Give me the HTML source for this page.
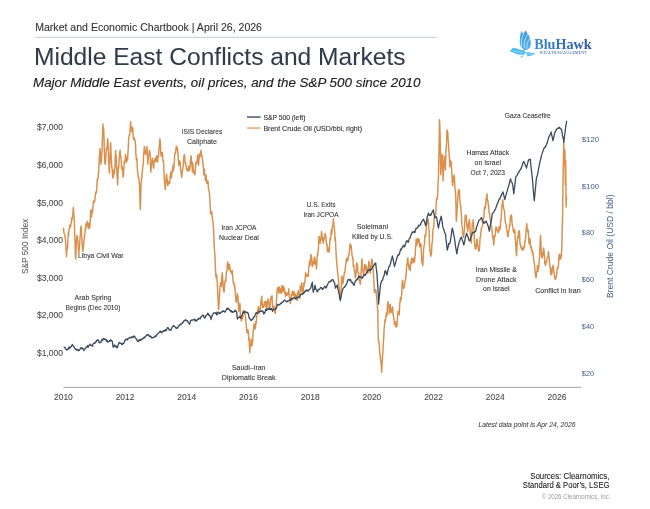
<!DOCTYPE html>
<html><head><meta charset="utf-8"><style>
html,body{margin:0;padding:0;background:#fff;width:650px;height:509px;overflow:hidden}
svg{display:block;will-change:transform}
text{font-family:"Liberation Sans",sans-serif}
</style></head><body>
<svg width="650" height="509" viewBox="0 0 650 509">
<rect width="650" height="509" fill="#fff"/>
<text x="35.2" y="30.9" font-size="10.6" text-anchor="start" fill="#333" stroke="#333" stroke-width="0.1" textLength="226.8" lengthAdjust="spacingAndGlyphs" >Market and Economic Chartbook | April 26, 2026</text>
<rect x="35" y="36.8" width="402" height="1" fill="#c3c9d1"/>
<text x="34.0" y="65.1" font-size="24.2" text-anchor="start" fill="#303c49" stroke="#303c49" stroke-width="0.05" textLength="371.5" lengthAdjust="spacingAndGlyphs" >Middle East Conflicts and Markets</text>
<text x="33.0" y="86.7" font-size="12.8" text-anchor="start" fill="#222" stroke="#222" stroke-width="0.15" textLength="387.5" lengthAdjust="spacingAndGlyphs"  font-style="italic">Major Middle East events, oil prices, and the S&amp;P 500 since 2010</text>
<rect x="63.4" y="386.8" width="518" height="1.2" fill="#aeb2b6"/>
<text x="63.4" y="399.5" font-size="8.5" text-anchor="middle" fill="#4d4d4d" stroke="#4d4d4d" stroke-width="0.1" textLength="18.9" lengthAdjust="spacingAndGlyphs" >2010</text>
<text x="125.1" y="399.5" font-size="8.5" text-anchor="middle" fill="#4d4d4d" stroke="#4d4d4d" stroke-width="0.1" textLength="18.9" lengthAdjust="spacingAndGlyphs" >2012</text>
<text x="186.8" y="399.5" font-size="8.5" text-anchor="middle" fill="#4d4d4d" stroke="#4d4d4d" stroke-width="0.1" textLength="18.9" lengthAdjust="spacingAndGlyphs" >2014</text>
<text x="248.5" y="399.5" font-size="8.5" text-anchor="middle" fill="#4d4d4d" stroke="#4d4d4d" stroke-width="0.1" textLength="18.9" lengthAdjust="spacingAndGlyphs" >2016</text>
<text x="310.2" y="399.5" font-size="8.5" text-anchor="middle" fill="#4d4d4d" stroke="#4d4d4d" stroke-width="0.1" textLength="18.9" lengthAdjust="spacingAndGlyphs" >2018</text>
<text x="371.9" y="399.5" font-size="8.5" text-anchor="middle" fill="#4d4d4d" stroke="#4d4d4d" stroke-width="0.1" textLength="18.9" lengthAdjust="spacingAndGlyphs" >2020</text>
<text x="433.6" y="399.5" font-size="8.5" text-anchor="middle" fill="#4d4d4d" stroke="#4d4d4d" stroke-width="0.1" textLength="18.9" lengthAdjust="spacingAndGlyphs" >2022</text>
<text x="495.3" y="399.5" font-size="8.5" text-anchor="middle" fill="#4d4d4d" stroke="#4d4d4d" stroke-width="0.1" textLength="18.9" lengthAdjust="spacingAndGlyphs" >2024</text>
<text x="557.0" y="399.5" font-size="8.5" text-anchor="middle" fill="#4d4d4d" stroke="#4d4d4d" stroke-width="0.1" textLength="18.9" lengthAdjust="spacingAndGlyphs" >2026</text>
<text x="63.0" y="356.0" font-size="8.6" text-anchor="end" fill="#4d4d4d" stroke="#4d4d4d" stroke-width="0.1" textLength="26.0" lengthAdjust="spacingAndGlyphs" >$1,000</text>
<text x="63.0" y="318.4" font-size="8.6" text-anchor="end" fill="#4d4d4d" stroke="#4d4d4d" stroke-width="0.1" textLength="26.0" lengthAdjust="spacingAndGlyphs" >$2,000</text>
<text x="63.0" y="280.8" font-size="8.6" text-anchor="end" fill="#4d4d4d" stroke="#4d4d4d" stroke-width="0.1" textLength="26.0" lengthAdjust="spacingAndGlyphs" >$3,000</text>
<text x="63.0" y="243.2" font-size="8.6" text-anchor="end" fill="#4d4d4d" stroke="#4d4d4d" stroke-width="0.1" textLength="26.0" lengthAdjust="spacingAndGlyphs" >$4,000</text>
<text x="63.0" y="205.6" font-size="8.6" text-anchor="end" fill="#4d4d4d" stroke="#4d4d4d" stroke-width="0.1" textLength="26.0" lengthAdjust="spacingAndGlyphs" >$5,000</text>
<text x="63.0" y="168.0" font-size="8.6" text-anchor="end" fill="#4d4d4d" stroke="#4d4d4d" stroke-width="0.1" textLength="26.0" lengthAdjust="spacingAndGlyphs" >$6,000</text>
<text x="63.0" y="130.4" font-size="8.6" text-anchor="end" fill="#4d4d4d" stroke="#4d4d4d" stroke-width="0.1" textLength="26.0" lengthAdjust="spacingAndGlyphs" >$7,000</text>
<text x="581.8" y="375.7" font-size="7.8" text-anchor="start" fill="#46608a" textLength="12.3" lengthAdjust="spacingAndGlyphs" >$20</text>
<text x="581.8" y="328.9" font-size="7.8" text-anchor="start" fill="#46608a" textLength="12.3" lengthAdjust="spacingAndGlyphs" >$40</text>
<text x="581.8" y="282.1" font-size="7.8" text-anchor="start" fill="#46608a" textLength="12.3" lengthAdjust="spacingAndGlyphs" >$60</text>
<text x="581.8" y="235.3" font-size="7.8" text-anchor="start" fill="#46608a" textLength="12.3" lengthAdjust="spacingAndGlyphs" >$80</text>
<text x="581.8" y="188.5" font-size="7.8" text-anchor="start" fill="#46608a" textLength="17.2" lengthAdjust="spacingAndGlyphs" >$100</text>
<text x="581.8" y="141.7" font-size="7.8" text-anchor="start" fill="#46608a" textLength="17.2" lengthAdjust="spacingAndGlyphs" >$120</text>
<text transform="translate(27.8,246.4) rotate(-90)" font-size="8.5" text-anchor="middle" fill="#4d4d4d" textLength="55.2" lengthAdjust="spacingAndGlyphs">S&amp;P 500 Index</text>
<text transform="translate(613.4,246.2) rotate(-90)" font-size="8.8" text-anchor="middle" fill="#46608a" textLength="103.5" lengthAdjust="spacingAndGlyphs">Brent Crude Oil (USD / bbl)</text>
<rect x="247" y="116.3" width="13.6" height="1.5" fill="#4a5b6e"/>
<rect x="247" y="127.3" width="13.6" height="1.5" fill="#e6ab74"/>
<text x="263.4" y="120" font-size="7.4" text-anchor="start" fill="#333" stroke="#333" stroke-width="0.12" textLength="42.0" lengthAdjust="spacingAndGlyphs" >S&amp;P 500 (left)</text>
<text x="263.4" y="131" font-size="7.4" text-anchor="start" fill="#333" stroke="#333" stroke-width="0.12" textLength="98.6" lengthAdjust="spacingAndGlyphs" >Brent Crude Oil (USD/bbl, right)</text>
<text x="78.0" y="258.1" font-size="7.6" text-anchor="start" fill="#3c3c3c" stroke="#3c3c3c" stroke-width="0.12" textLength="45.6" lengthAdjust="spacingAndGlyphs" >Libya Civil War</text>
<text x="93" y="300.2" font-size="7.6" text-anchor="middle" fill="#3c3c3c" stroke="#3c3c3c" stroke-width="0.12" textLength="36.9" lengthAdjust="spacingAndGlyphs" >Arab Spring</text>
<text x="93" y="309.85" font-size="7.6" text-anchor="middle" fill="#3c3c3c" stroke="#3c3c3c" stroke-width="0.12" textLength="54.8" lengthAdjust="spacingAndGlyphs" >Begins (Dec 2010)</text>
<text x="202" y="134.2" font-size="7.6" text-anchor="middle" fill="#3c3c3c" stroke="#3c3c3c" stroke-width="0.12" textLength="40.5" lengthAdjust="spacingAndGlyphs" >ISIS Declares</text>
<text x="202" y="143.85" font-size="7.6" text-anchor="middle" fill="#3c3c3c" stroke="#3c3c3c" stroke-width="0.12" textLength="30.1" lengthAdjust="spacingAndGlyphs" >Caliphate</text>
<text x="239" y="230.1" font-size="7.6" text-anchor="middle" fill="#3c3c3c" stroke="#3c3c3c" stroke-width="0.12" textLength="35.0" lengthAdjust="spacingAndGlyphs" >Iran JCPOA</text>
<text x="239" y="239.75" font-size="7.6" text-anchor="middle" fill="#3c3c3c" stroke="#3c3c3c" stroke-width="0.12" textLength="39.8" lengthAdjust="spacingAndGlyphs" >Nuclear Deal</text>
<text x="248.7" y="370.0" font-size="7.6" text-anchor="middle" fill="#3c3c3c" stroke="#3c3c3c" stroke-width="0.12" textLength="33.4" lengthAdjust="spacingAndGlyphs" >Saudi–Iran</text>
<text x="248.7" y="379.65" font-size="7.6" text-anchor="middle" fill="#3c3c3c" stroke="#3c3c3c" stroke-width="0.12" textLength="53.8" lengthAdjust="spacingAndGlyphs" >Diplomatic Break</text>
<text x="321" y="206.9" font-size="7.6" text-anchor="middle" fill="#3c3c3c" stroke="#3c3c3c" stroke-width="0.12" textLength="28.9" lengthAdjust="spacingAndGlyphs" >U.S. Exits</text>
<text x="321" y="216.55" font-size="7.6" text-anchor="middle" fill="#3c3c3c" stroke="#3c3c3c" stroke-width="0.12" textLength="35.1" lengthAdjust="spacingAndGlyphs" >Iran JCPOA</text>
<text x="372.4" y="228.9" font-size="7.6" text-anchor="middle" fill="#3c3c3c" stroke="#3c3c3c" stroke-width="0.12" textLength="31.4" lengthAdjust="spacingAndGlyphs" >Soleimani</text>
<text x="372.4" y="238.55" font-size="7.6" text-anchor="middle" fill="#3c3c3c" stroke="#3c3c3c" stroke-width="0.12" textLength="41.0" lengthAdjust="spacingAndGlyphs" >Killed by U.S.</text>
<text x="527.8" y="118.3" font-size="7.6" text-anchor="middle" fill="#3c3c3c" stroke="#3c3c3c" stroke-width="0.12" textLength="46.0" lengthAdjust="spacingAndGlyphs" >Gaza Ceasefire</text>
<text x="487.8" y="155.2" font-size="7.6" text-anchor="middle" fill="#3c3c3c" stroke="#3c3c3c" stroke-width="0.12" textLength="42.8" lengthAdjust="spacingAndGlyphs" >Hamas Attack</text>
<text x="487.8" y="164.85" font-size="7.6" text-anchor="middle" fill="#3c3c3c" stroke="#3c3c3c" stroke-width="0.12" textLength="26.4" lengthAdjust="spacingAndGlyphs" >on Israel</text>
<text x="487.8" y="174.5" font-size="7.6" text-anchor="middle" fill="#3c3c3c" stroke="#3c3c3c" stroke-width="0.12" textLength="34.5" lengthAdjust="spacingAndGlyphs" >Oct 7, 2023</text>
<text x="496.3" y="272.0" font-size="7.6" text-anchor="middle" fill="#3c3c3c" stroke="#3c3c3c" stroke-width="0.12" textLength="41.0" lengthAdjust="spacingAndGlyphs" >Iran Missile &amp;</text>
<text x="496.3" y="281.65" font-size="7.6" text-anchor="middle" fill="#3c3c3c" stroke="#3c3c3c" stroke-width="0.12" textLength="40.4" lengthAdjust="spacingAndGlyphs" >Drone Attack</text>
<text x="496.3" y="291.3" font-size="7.6" text-anchor="middle" fill="#3c3c3c" stroke="#3c3c3c" stroke-width="0.12" textLength="26.4" lengthAdjust="spacingAndGlyphs" >on Israel</text>
<text x="557.9" y="293.4" font-size="7.6" text-anchor="middle" fill="#3c3c3c" stroke="#3c3c3c" stroke-width="0.12" textLength="45.4" lengthAdjust="spacingAndGlyphs" >Conflict in Iran</text>
<text x="478.4" y="427.2" font-size="7.6" text-anchor="start" fill="#444" stroke="#444" stroke-width="0.08" textLength="97.2" lengthAdjust="spacingAndGlyphs"  font-style="italic">Latest data point is Apr 24, 2026</text>
<text x="609.4" y="479.4" font-size="9.0" text-anchor="end" fill="#222" stroke="#222" stroke-width="0.1" textLength="79.2" lengthAdjust="spacingAndGlyphs" >Sources: Clearnomics,</text>
<text x="609.4" y="488.3" font-size="9.0" text-anchor="end" fill="#222" stroke="#222" stroke-width="0.1" textLength="86.6" lengthAdjust="spacingAndGlyphs" >Standard &amp; Poor’s, LSEG</text>
<text x="610.5" y="498.6" font-size="6.9" text-anchor="end" fill="#9a9a9a" textLength="68.8" lengthAdjust="spacingAndGlyphs" >© 2026 Clearnomics, Inc.</text>

<defs>
<linearGradient id="bh" x1="0" y1="0" x2="1" y2="0"><stop offset="0" stop-color="#3d8ad6"/><stop offset="1" stop-color="#2b56a3"/></linearGradient>
<linearGradient id="wing" x1="0" y1="0" x2="0" y2="1"><stop offset="0" stop-color="#3a98dc"/><stop offset="1" stop-color="#5ab6ea"/></linearGradient>
</defs>
<text x="534.2" y="49.3" style="font-family:'Liberation Serif',serif;font-weight:bold" font-size="14" fill="url(#bh)" textLength="57.5" lengthAdjust="spacingAndGlyphs">BluHawk</text>
<text x="539.6" y="54.3" style="font-family:'Liberation Serif',serif" font-size="4.05" fill="#2f62b0" textLength="47" lengthAdjust="spacingAndGlyphs">WEALTH MANAGEMENT</text>
<g fill="url(#wing)">
<path d="M519.8,43.5 C519.6,39 520.2,34 521.5,31.1 C522.3,32.5 522.8,33.5 523.2,34.4 C523.8,32.6 524.6,31.2 525.6,30.4 C526.6,31.8 527.3,33 527.8,34 C528.5,34.6 528.9,35.2 529.1,35.9 C529.9,37.5 530.4,39.2 530.5,40.8 C530.9,42.3 531,43.6 530.8,44.9 C530.3,46.8 529.5,48.2 528.4,49 C527.2,49.9 526,50.3 524.9,50.4 C523.5,49.8 522.4,48.8 521.5,47.6 C520.6,46.4 520,45 519.8,43.5 Z"/>
</g>
<g fill="none" stroke="#fff" stroke-width="0.55" stroke-linecap="round">
<path d="M521.6,46.2 C520.9,42 521.5,37.5 523.2,34.6"/>
<path d="M524.3,47.4 C523.6,42.5 525.3,37.3 527.7,34"/>
<path d="M526.8,48.4 C526.5,44.5 527.8,40.5 530,38.2"/>
</g>
<g fill="#52bcee">
<path d="M510.0,51.6 C510.6,50.2 511.8,48.6 513.6,47.7 C515.4,47.9 517,48.6 518.6,49.2 C520.6,49.8 522.6,50.2 524.9,50.6 L525.6,53.2 C524.6,54.2 523.4,54.6 522,54.7 C519.5,54.7 517,54.2 515,53.4 C513.4,52.6 511.8,52 510.0,51.6 Z"/>
<path d="M525.6,52.2 C528.8,52 532.4,52.6 535.3,53.5 C534.4,54.2 533.5,54.8 532.5,55.2 C530.8,55.6 529.2,56 527.7,56.6 C527.2,55.1 526.5,53.6 525.6,52.2 Z"/>
<path d="M519.2,57.7 C520.5,57 521.8,56.2 522.6,55.2 L523.6,55.6 C523,56.8 521.6,57.7 519.2,57.7 Z"/>
</g>
<g fill="none" stroke="#fff" stroke-width="0.4">
<path d="M527,53.6 C529.5,53.6 531.8,53.9 533.8,54.3"/>
<path d="M513.5,50.8 C516,51.6 519,52.2 522.5,52.4"/>
</g>

<path d="M63.50,227.70 L63.88,232.78 L64.25,233.37 L64.62,233.85 L65.00,236.64 L65.38,239.36 L65.75,242.39 L66.12,250.57 L66.50,256.60 L66.72,250.72 L66.95,249.34 L67.18,249.94 L67.40,248.08 L67.62,247.30 L67.85,241.16 L68.07,238.24 L68.30,231.90 L68.59,235.89 L68.88,229.73 L69.16,228.85 L69.45,229.10 L69.74,225.26 L70.02,225.91 L70.31,226.69 L70.60,227.10 L70.90,224.26 L71.20,222.81 L71.50,220.13 L71.80,217.70 L72.03,219.89 L72.25,218.26 L72.47,217.20 L72.70,215.40 L72.92,213.37 L73.15,208.89 L73.38,207.57 L73.60,211.20 L73.90,214.70 L74.20,218.90 L74.47,226.04 L74.75,233.18 L75.03,242.84 L75.30,255.50 L75.53,257.16 L75.75,258.99 L75.97,254.06 L76.20,246.20 L76.42,241.36 L76.65,237.53 L76.88,237.62 L77.10,235.40 L77.32,238.02 L77.55,240.28 L77.78,240.05 L78.00,243.33 L78.22,244.75 L78.45,249.00 L78.68,253.72 L78.90,251.90 L79.19,249.13 L79.48,246.34 L79.76,243.53 L80.05,236.96 L80.34,235.35 L80.62,229.80 L80.91,227.66 L81.20,226.00 L81.43,231.07 L81.65,235.64 L81.88,237.56 L82.10,242.21 L82.32,245.82 L82.55,247.80 L82.78,251.56 L83.00,249.60 L83.22,248.92 L83.45,246.46 L83.68,244.02 L83.90,240.58 L84.12,239.56 L84.35,237.91 L84.57,235.01 L84.80,234.20 L85.09,232.19 L85.38,227.84 L85.66,228.75 L85.95,223.70 L86.24,226.51 L86.52,225.17 L86.81,224.72 L87.10,221.20 L87.47,224.32 L87.85,223.96 L88.22,228.74 L88.60,225.55 L88.97,222.98 L89.35,223.53 L89.72,227.98 L90.10,223.60 L90.40,217.59 L90.70,210.60 L90.99,209.80 L91.28,213.48 L91.56,217.27 L91.85,211.48 L92.14,212.61 L92.42,213.04 L92.71,210.35 L93.00,204.70 L93.25,202.21 L93.50,202.98 L93.75,201.58 L94.00,200.60 L94.38,202.31 L94.75,200.82 L95.12,197.51 L95.50,193.93 L95.88,191.87 L96.25,193.23 L96.62,190.35 L97.00,183.90 L97.24,179.11 L97.47,180.73 L97.71,178.26 L97.95,179.04 L98.19,177.07 L98.43,173.22 L98.66,172.48 L98.90,166.20 L99.15,160.70 L99.40,155.19 L99.65,153.49 L99.90,149.40 L100.15,148.54 L100.40,156.39 L100.65,161.78 L100.90,164.20 L101.15,160.91 L101.40,160.99 L101.65,156.01 L101.90,152.55 L102.15,150.25 L102.40,138.80 L102.65,132.49 L102.90,123.90 L103.12,128.46 L103.35,127.58 L103.57,129.00 L103.80,130.70 L104.05,139.74 L104.30,151.29 L104.55,155.87 L104.80,162.20 L105.05,164.32 L105.30,164.03 L105.55,161.79 L105.80,158.45 L106.05,152.51 L106.30,149.19 L106.55,148.17 L106.80,149.40 L107.05,147.08 L107.30,142.61 L107.55,139.99 L107.80,138.60 L108.20,148.71 L108.40,153.03 L108.60,158.44 L108.80,162.95 L109.00,166.05 L109.20,170.98 L109.40,173.10 L109.73,164.28 L110.05,156.43 L110.38,146.66 L110.70,142.60 L110.95,150.06 L111.20,158.17 L111.45,161.31 L111.70,166.20 L111.95,167.85 L112.20,168.89 L112.45,173.82 L112.70,178.00 L113.08,175.65 L113.45,176.80 L113.83,169.91 L114.20,174.03 L114.58,170.79 L114.95,166.70 L115.33,154.93 L115.70,150.40 L115.94,159.07 L116.18,155.27 L116.41,163.79 L116.65,168.30 L116.89,172.86 L117.12,178.05 L117.36,177.64 L117.60,184.90 L117.85,179.80 L118.10,172.50 L118.35,166.41 L118.60,168.19 L118.85,165.30 L119.10,157.93 L119.35,158.19 L119.60,152.40 L119.85,152.90 L120.10,150.17 L120.35,154.60 L120.60,155.91 L120.85,156.40 L121.10,159.44 L121.35,162.49 L121.60,168.10 L121.84,169.40 L122.07,166.22 L122.31,168.24 L122.55,167.79 L122.79,172.29 L123.03,177.11 L123.26,176.31 L123.50,176.00 L123.75,169.82 L124.00,168.47 L124.25,161.76 L124.50,161.59 L124.75,163.34 L125.00,159.81 L125.25,158.64 L125.50,154.40 L125.75,155.37 L126.00,158.98 L126.25,160.77 L126.50,162.25 L126.75,159.23 L127.00,160.30 L127.25,157.19 L127.50,160.30 L127.86,154.55 L128.22,148.13 L128.59,141.00 L128.95,135.98 L129.31,135.82 L129.68,134.87 L130.04,131.12 L130.40,124.80 L130.65,121.61 L130.90,125.66 L131.15,129.60 L131.40,130.78 L131.65,131.55 L131.90,127.50 L132.15,128.27 L132.40,127.80 L132.76,127.35 L133.12,136.12 L133.49,139.48 L133.85,139.66 L134.21,137.67 L134.58,139.02 L134.94,139.85 L135.30,142.60 L135.58,145.10 L135.85,154.01 L136.12,155.82 L136.40,159.91 L136.68,159.09 L136.95,158.67 L137.22,165.69 L137.50,170.39 L137.78,172.86 L138.05,174.44 L138.32,177.74 L138.60,177.15 L138.88,177.59 L139.15,181.23 L139.42,184.05 L139.70,189.80 L140.00,203.18 L140.30,209.50 L140.65,199.07 L141.00,183.90 L141.25,182.08 L141.50,179.83 L141.75,177.59 L142.00,174.60 L142.25,171.61 L142.50,169.86 L142.75,165.72 L143.00,166.20 L143.32,163.78 L143.65,154.45 L143.98,151.60 L144.30,146.50 L144.60,148.13 L144.90,150.63 L145.20,152.64 L145.50,154.40 L145.85,151.56 L146.20,151.54 L146.55,149.45 L146.90,146.50 L147.15,149.86 L147.40,155.97 L147.65,158.64 L147.90,164.20 L148.28,156.77 L148.65,154.12 L149.03,154.26 L149.40,150.40 L149.75,151.61 L150.10,153.99 L150.45,161.72 L150.80,172.10 L151.15,167.91 L151.50,163.29 L151.85,163.25 L152.20,158.30 L152.40,158.42 L152.60,160.55 L152.80,161.79 L153.00,163.45 L153.20,165.03 L153.40,167.90 L153.60,166.11 L153.80,168.10 L154.04,161.85 L154.28,160.58 L154.51,161.59 L154.75,158.67 L154.99,158.60 L155.22,159.38 L155.46,161.46 L155.70,158.30 L155.90,160.44 L156.10,159.94 L156.30,156.47 L156.50,158.09 L156.70,155.78 L156.90,156.52 L157.10,160.85 L157.30,162.20 L157.60,161.29 L157.90,156.16 L158.20,155.87 L158.50,157.12 L158.80,151.57 L159.10,148.24 L159.40,144.27 L159.70,141.60 L159.90,138.75 L160.10,139.96 L160.30,142.27 L160.50,142.97 L160.70,153.22 L160.90,154.49 L161.10,154.84 L161.30,156.30 L161.54,153.06 L161.78,153.18 L162.01,156.21 L162.25,152.13 L162.49,153.59 L162.72,157.66 L162.96,160.66 L163.20,160.30 L163.45,161.39 L163.70,164.43 L163.95,170.29 L164.20,177.02 L164.45,180.48 L164.70,183.46 L164.95,186.01 L165.20,189.80 L165.55,184.89 L165.90,182.53 L166.25,176.37 L166.60,174.10 L166.84,177.93 L167.07,180.18 L167.31,179.45 L167.55,184.43 L167.79,185.56 L168.03,183.75 L168.26,181.51 L168.50,183.90 L168.75,183.92 L169.00,182.46 L169.25,182.50 L169.50,183.04 L169.75,183.30 L170.00,179.14 L170.25,175.88 L170.50,174.10 L170.75,172.31 L171.00,173.94 L171.25,177.20 L171.50,177.85 L171.75,173.85 L172.00,171.20 L172.25,172.32 L172.50,170.10 L172.74,168.62 L172.97,165.32 L173.21,170.81 L173.45,169.54 L173.69,168.31 L173.93,167.95 L174.16,163.05 L174.40,160.30 L174.65,156.32 L174.90,153.31 L175.15,152.46 L175.40,152.31 L175.65,152.84 L175.90,149.03 L176.15,147.34 L176.40,146.50 L176.65,146.28 L176.90,150.00 L177.15,148.20 L177.40,148.04 L177.65,150.30 L177.90,153.82 L178.15,155.22 L178.40,160.30 L178.60,161.87 L178.80,165.44 L179.20,160.43 L179.40,162.56 L179.60,161.00 L179.80,162.82 L180.00,162.20 L180.24,162.17 L180.47,169.20 L180.71,168.97 L180.95,171.84 L181.19,173.93 L181.43,174.24 L181.66,177.44 L181.90,176.00 L182.15,173.73 L182.40,171.32 L182.65,169.21 L182.90,167.88 L183.15,166.54 L183.40,162.73 L183.65,158.89 L183.90,156.30 L184.10,157.18 L184.30,154.45 L184.70,156.57 L184.90,161.10 L185.10,162.37 L185.30,163.69 L185.50,162.20 L185.76,165.19 L186.03,165.69 L186.29,165.46 L186.55,169.19 L186.81,167.71 L187.07,169.00 L187.34,170.82 L187.60,169.90 L187.84,170.06 L188.07,168.79 L188.31,170.93 L188.55,168.22 L188.79,166.16 L189.03,167.45 L189.26,170.54 L189.50,170.70 L189.75,167.85 L190.00,167.09 L190.25,163.92 L190.50,161.13 L190.75,159.72 L191.00,155.68 L191.25,156.77 L191.50,159.70 L191.80,164.86 L192.10,167.16 L192.40,172.03 L192.70,162.78 L193.00,165.24 L193.30,169.10 L193.60,171.32 L193.90,173.10 L194.19,174.15 L194.48,173.42 L194.76,174.67 L195.05,173.89 L195.34,169.90 L195.62,165.41 L195.91,162.71 L196.20,162.00 L196.50,163.73 L196.80,162.78 L197.10,160.83 L197.40,158.58 L197.70,154.91 L198.00,159.31 L198.30,163.23 L198.60,165.20 L198.90,160.71 L199.20,156.46 L199.50,153.82 L199.80,157.31 L200.10,155.78 L200.40,153.68 L200.70,152.65 L201.00,150.20 L201.38,153.51 L201.75,156.04 L202.12,155.70 L202.50,160.50 L202.78,161.34 L203.05,164.15 L203.32,166.57 L203.60,169.90 L203.86,174.85 L204.12,173.63 L204.39,169.01 L204.65,174.07 L204.91,174.76 L205.17,176.20 L205.44,180.49 L205.70,176.20 L205.90,176.29 L206.10,175.07 L206.30,177.49 L206.50,181.62 L206.70,180.86 L206.90,183.57 L207.10,182.07 L207.30,180.90 L207.55,180.97 L207.80,183.18 L208.05,181.19 L208.30,185.97 L208.55,189.91 L208.80,190.18 L209.05,190.96 L209.30,192.00 L209.58,195.50 L209.85,198.23 L210.12,205.20 L210.40,210.00 L210.68,213.88 L210.95,212.32 L211.22,211.37 L211.50,214.72 L211.78,211.81 L212.05,216.24 L212.32,217.17 L212.60,220.80 L212.88,220.64 L213.15,224.18 L213.42,226.55 L213.70,231.60 L213.95,239.00 L214.20,247.12 L214.45,250.00 L214.70,253.30 L214.97,255.24 L215.25,263.87 L215.53,270.10 L215.80,274.78 L216.08,277.79 L216.35,274.48 L216.62,274.49 L216.90,279.30 L217.10,280.89 L217.30,282.16 L217.70,292.49 L217.90,295.45 L218.10,298.63 L218.30,303.45 L218.50,309.50 L218.76,308.70 L219.03,304.38 L219.29,299.43 L219.55,294.24 L219.81,288.36 L220.07,286.52 L220.34,285.57 L220.60,283.60 L220.81,282.40 L221.02,283.86 L221.24,283.90 L221.45,286.30 L221.66,279.97 L221.88,276.93 L222.09,274.52 L222.30,272.80 L222.51,275.57 L222.73,280.08 L222.94,280.98 L223.15,287.36 L223.36,288.78 L223.57,290.29 L223.79,289.17 L224.00,292.20 L224.20,291.31 L224.40,287.09 L224.60,285.66 L224.80,282.18 L225.20,281.22 L225.40,279.73 L225.60,279.30 L225.86,281.50 L226.12,275.52 L226.39,271.53 L226.65,271.81 L226.91,271.23 L227.17,265.87 L227.44,263.39 L227.70,261.90 L227.97,264.04 L228.25,265.63 L228.53,266.90 L228.80,269.60 L229.08,265.02 L229.35,264.18 L229.62,269.51 L229.90,266.30 L230.18,270.12 L230.45,270.27 L230.72,271.70 L231.00,270.94 L231.28,271.73 L231.55,273.56 L231.82,271.65 L232.10,270.60 L232.36,270.45 L232.62,275.31 L232.89,278.19 L233.15,281.91 L233.41,283.31 L233.67,282.40 L233.94,282.74 L234.20,285.80 L234.40,284.54 L234.60,284.38 L234.80,288.69 L235.00,287.90 L235.25,291.58 L235.50,294.68 L235.75,298.20 L236.00,301.70 L236.35,302.20 L236.70,298.66 L237.05,299.27 L237.40,293.80 L237.68,297.63 L237.95,296.22 L238.22,301.90 L238.50,307.60 L238.85,311.32 L239.20,304.61 L239.55,303.74 L239.90,303.60 L240.15,306.73 L240.40,313.64 L240.65,317.04 L240.90,318.65 L241.15,319.57 L241.40,320.94 L241.65,315.89 L241.90,319.40 L242.15,315.81 L242.40,316.29 L242.65,318.60 L242.90,314.18 L243.15,312.47 L243.40,312.21 L243.65,311.30 L243.90,311.50 L244.14,311.21 L244.38,310.58 L244.61,312.65 L244.85,313.59 L245.09,314.71 L245.33,316.16 L245.56,316.24 L245.80,321.30 L246.15,323.42 L246.50,328.80 L246.85,331.42 L247.20,333.10 L247.50,330.30 L247.80,329.57 L248.10,330.82 L248.40,331.20 L248.75,340.11 L249.10,338.27 L249.45,345.46 L249.80,352.80 L250.12,347.73 L250.45,345.73 L250.77,345.76 L251.10,339.10 L251.40,343.15 L251.70,346.00 L252.00,342.74 L252.30,345.00 L252.65,341.11 L253.00,334.55 L253.35,329.76 L253.70,327.20 L253.95,323.98 L254.20,325.12 L254.45,325.74 L254.70,329.20 L254.95,326.68 L255.20,324.09 L255.45,328.35 L255.70,322.35 L255.95,321.01 L256.20,323.48 L256.45,320.07 L256.70,315.40 L256.94,316.07 L257.17,313.01 L257.41,311.56 L257.65,311.31 L257.89,309.05 L258.12,308.13 L258.36,307.19 L258.60,306.60 L259.00,311.49 L259.40,312.78 L259.80,308.52 L260.00,308.78 L260.20,310.50 L260.55,307.85 L260.90,301.65 L261.25,300.16 L261.60,297.70 L261.84,296.24 L262.08,301.61 L262.31,304.53 L262.55,305.84 L262.79,307.48 L263.02,307.30 L263.26,305.11 L263.50,307.60 L263.85,304.75 L264.20,304.90 L264.55,301.81 L264.90,301.70 L265.30,305.05 L265.50,304.44 L265.70,306.76 L265.90,301.39 L266.10,304.15 L266.50,309.50 L266.75,309.10 L267.00,308.91 L267.25,301.56 L267.50,302.48 L267.75,301.44 L268.00,298.85 L268.25,302.35 L268.50,299.70 L268.88,304.36 L269.25,307.37 L269.62,307.93 L270.00,307.60 L270.25,303.94 L270.50,301.50 L270.75,298.21 L271.00,297.75 L271.25,296.60 L271.50,296.89 L271.75,296.92 L272.00,295.70 L272.35,302.97 L272.70,307.01 L273.05,309.16 L273.40,309.50 L273.65,307.59 L273.90,306.11 L274.15,309.36 L274.40,310.61 L274.65,312.33 L274.90,309.44 L275.15,310.85 L275.40,313.50 L275.64,308.20 L275.88,307.41 L276.11,308.90 L276.35,302.98 L276.59,299.86 L276.83,293.45 L277.06,290.63 L277.30,289.80 L277.55,287.88 L277.80,287.49 L278.05,290.13 L278.30,289.38 L278.55,289.73 L278.80,293.20 L279.05,290.07 L279.30,286.90 L279.55,288.62 L279.80,287.73 L280.05,288.34 L280.30,291.83 L280.55,292.91 L280.80,292.39 L281.05,293.32 L281.30,289.80 L281.54,289.32 L281.77,286.45 L282.01,285.83 L282.25,289.15 L282.49,292.00 L282.73,289.43 L282.96,288.73 L283.20,285.90 L283.49,288.67 L283.77,290.78 L284.06,287.45 L284.35,289.02 L284.64,293.19 L284.93,291.77 L285.21,293.54 L285.50,296.50 L285.80,292.24 L286.10,294.77 L286.40,293.85 L286.70,294.99 L287.00,295.29 L287.30,294.76 L287.60,293.28 L287.90,292.50 L288.14,294.39 L288.38,293.70 L288.61,293.03 L288.85,288.70 L289.09,292.43 L289.33,297.75 L289.56,297.89 L289.80,300.20 L290.05,298.85 L290.30,303.70 L290.55,300.68 L290.80,298.51 L291.05,297.60 L291.30,294.64 L291.55,297.26 L291.80,294.50 L292.18,292.79 L292.55,290.86 L292.93,292.35 L293.30,295.12 L293.68,295.47 L294.05,291.84 L294.43,293.94 L294.80,298.40 L295.16,299.04 L295.52,294.82 L295.89,293.96 L296.25,299.48 L296.61,295.87 L296.98,300.29 L297.34,300.45 L297.70,294.50 L297.95,292.19 L298.20,290.74 L298.45,293.53 L298.70,295.07 L298.95,293.71 L299.20,294.16 L299.45,296.78 L299.70,298.40 L299.95,291.51 L300.20,286.20 L300.45,288.85 L300.70,289.93 L300.95,290.36 L301.20,287.09 L301.45,283.62 L301.70,282.70 L301.94,287.05 L302.17,290.28 L302.41,293.98 L302.65,293.80 L302.89,293.39 L303.12,292.62 L303.36,288.50 L303.60,286.60 L303.85,282.89 L304.10,286.13 L304.35,282.77 L304.60,283.47 L304.85,281.61 L305.10,279.35 L305.35,276.59 L305.60,272.80 L305.85,276.74 L306.10,274.86 L306.35,274.43 L306.60,276.16 L306.85,275.89 L307.10,274.44 L307.35,275.99 L307.60,274.80 L307.84,274.81 L308.08,276.53 L308.31,275.72 L308.55,270.72 L308.79,267.02 L309.02,267.05 L309.26,263.78 L309.50,261.00 L309.90,264.78 L310.10,264.07 L310.30,264.91 L310.50,258.46 L310.70,254.43 L311.10,255.10 L311.45,256.66 L311.80,257.89 L312.15,266.47 L312.50,265.00 L312.74,263.40 L312.98,265.16 L313.21,262.31 L313.45,263.72 L313.69,260.97 L313.92,259.89 L314.16,263.88 L314.40,257.10 L314.65,259.48 L314.90,257.71 L315.15,259.75 L315.40,261.51 L315.65,264.13 L315.90,262.00 L316.15,264.87 L316.40,268.90 L316.65,266.53 L316.90,262.37 L317.15,257.64 L317.40,254.16 L317.65,255.34 L317.90,253.50 L318.15,249.73 L318.40,249.20 L318.65,242.74 L318.90,236.75 L319.15,239.00 L319.40,236.73 L319.65,241.26 L319.90,240.67 L320.15,243.45 L320.40,239.40 L320.77,240.33 L321.15,236.50 L321.52,231.56 L321.90,233.50 L322.25,237.86 L322.60,240.52 L322.95,241.70 L323.30,243.30 L323.55,240.59 L323.80,237.36 L324.05,239.64 L324.30,237.22 L324.55,237.02 L324.80,234.86 L325.05,233.41 L325.30,234.40 L325.54,235.63 L325.77,235.50 L326.01,238.22 L326.25,241.71 L326.49,242.40 L326.73,245.25 L326.96,244.12 L327.20,247.20 L327.46,251.75 L327.73,250.34 L327.99,248.54 L328.25,247.96 L328.51,251.26 L328.77,251.71 L329.04,252.19 L329.30,251.20 L329.50,246.73 L329.70,245.45 L330.10,238.20 L330.50,239.53 L330.90,235.40 L331.20,229.88 L331.50,234.57 L331.80,233.65 L332.10,230.22 L332.40,225.77 L332.70,226.46 L333.00,224.53 L333.30,218.70 L333.68,222.11 L334.05,226.34 L334.43,228.31 L334.80,233.50 L335.00,240.43 L335.20,237.22 L335.60,242.95 L336.00,251.50 L336.40,259.10 L336.75,261.94 L337.10,267.59 L337.45,269.85 L337.80,274.80 L338.15,275.47 L338.50,280.00 L338.85,286.21 L339.20,288.60 L339.50,292.41 L339.80,292.73 L340.10,293.24 L340.40,298.40 L340.72,294.32 L341.05,290.35 L341.38,284.98 L341.70,276.80 L342.05,276.18 L342.40,279.43 L342.75,283.70 L343.10,282.70 L343.50,279.17 L343.90,276.32 L344.30,272.50 L344.50,272.99 L344.70,272.80 L344.95,271.97 L345.20,269.87 L345.45,266.40 L345.70,265.47 L345.95,263.31 L346.20,259.57 L346.45,261.97 L346.70,261.00 L346.94,260.52 L347.17,257.87 L347.41,259.90 L347.65,260.54 L347.89,260.31 L348.12,258.54 L348.36,256.24 L348.60,255.10 L349.00,255.16 L349.40,250.91 L349.80,246.93 L350.00,243.75 L350.20,245.30 L350.55,247.04 L350.90,247.93 L351.25,245.55 L351.60,251.20 L351.84,253.03 L352.08,255.41 L352.31,256.18 L352.55,256.63 L352.79,259.22 L353.02,258.57 L353.26,265.88 L353.50,266.90 L353.75,264.87 L354.00,267.10 L354.25,270.75 L354.50,271.12 L354.75,271.21 L355.00,274.23 L355.25,277.75 L355.50,276.80 L355.85,275.84 L356.20,272.25 L356.55,263.80 L356.90,263.00 L357.30,266.73 L357.50,265.13 L357.70,267.56 L357.90,272.30 L358.10,272.34 L358.50,272.80 L358.88,275.30 L359.25,281.04 L359.62,280.28 L360.00,282.70 L360.25,284.17 L360.50,281.12 L360.75,279.95 L361.00,274.36 L361.25,269.66 L361.50,266.47 L361.75,259.38 L362.00,259.10 L362.35,269.18 L362.70,269.36 L363.05,271.07 L363.40,274.80 L363.65,274.67 L363.90,273.16 L364.15,268.14 L364.40,268.15 L364.65,264.42 L364.90,264.72 L365.15,268.58 L365.40,265.00 L365.64,269.85 L365.88,267.83 L366.11,270.47 L366.35,266.33 L366.59,272.67 L366.83,273.18 L367.06,270.78 L367.30,272.80 L367.55,270.03 L367.80,268.32 L368.05,272.79 L368.30,267.63 L368.55,265.82 L368.80,261.95 L369.05,261.20 L369.30,265.00 L369.62,266.52 L369.95,270.18 L370.28,273.26 L370.60,267.66 L370.93,268.37 L371.25,263.60 L371.57,262.00 L371.90,259.10 L372.22,260.30 L372.55,263.09 L372.88,266.50 L373.20,270.40 L373.57,276.77 L373.95,282.57 L374.32,292.00 L374.70,290.80 L374.92,289.44 L375.15,290.59 L375.38,290.28 L375.60,292.68 L375.83,289.99 L376.05,290.74 L376.27,294.90 L376.50,295.90 L376.82,299.46 L377.15,303.73 L377.48,308.20 L377.80,311.20 L378.05,327.21 L378.30,339.30 L378.65,341.89 L379.00,341.80 L379.32,345.60 L379.65,351.74 L379.98,353.87 L380.30,357.10 L380.62,359.57 L380.95,362.45 L381.28,365.71 L381.60,372.40 L381.93,366.38 L382.25,361.10 L382.57,356.10 L382.90,352.00 L383.20,344.91 L383.50,339.79 L383.80,337.08 L384.10,329.10 L384.43,326.05 L384.75,322.18 L385.07,319.44 L385.40,321.27 L385.72,318.61 L386.05,315.60 L386.38,312.46 L386.70,316.30 L387.01,315.22 L387.32,309.90 L387.64,302.42 L387.95,301.81 L388.26,304.69 L388.57,305.20 L388.89,305.42 L389.20,313.80 L389.52,310.36 L389.85,307.75 L390.18,304.16 L390.50,308.83 L390.82,310.45 L391.15,312.67 L391.48,312.57 L391.80,311.20 L392.11,308.74 L392.43,306.91 L392.74,308.17 L393.05,314.95 L393.36,314.83 L393.68,318.21 L393.99,319.15 L394.30,321.40 L394.62,324.57 L394.95,324.52 L395.28,321.69 L395.60,323.07 L395.93,326.96 L396.25,324.73 L396.57,326.65 L396.90,326.50 L397.22,321.34 L397.55,316.69 L397.88,313.22 L398.20,311.20 L398.51,311.71 L398.82,310.68 L399.14,314.87 L399.45,309.97 L399.76,303.64 L400.07,301.48 L400.39,297.68 L400.70,301.00 L401.02,299.30 L401.35,296.38 L401.68,294.94 L402.00,286.67 L402.32,281.66 L402.65,280.33 L402.98,286.04 L403.30,285.70 L403.61,288.56 L403.93,287.84 L404.24,286.40 L404.55,284.83 L404.86,282.55 L405.18,280.14 L405.49,279.55 L405.80,275.50 L406.06,276.31 L406.33,271.65 L406.59,266.75 L406.85,266.09 L407.11,264.11 L407.38,260.00 L407.64,258.45 L407.90,257.90 L408.20,264.65 L408.50,262.95 L408.80,266.76 L409.10,268.90 L409.50,269.59 L409.90,265.18 L410.30,270.54 L410.50,265.55 L410.70,264.20 L410.90,261.95 L411.10,261.79 L411.50,258.85 L411.90,263.42 L412.10,261.53 L412.30,257.90 L412.68,259.55 L413.05,258.98 L413.43,259.00 L413.80,262.60 L414.08,260.40 L414.35,257.80 L414.62,261.65 L414.90,256.30 L415.20,255.39 L415.50,249.04 L415.80,245.70 L416.10,239.39 L416.40,243.33 L416.70,245.47 L417.00,243.33 L417.30,240.60 L417.62,238.21 L417.95,239.41 L418.28,242.63 L418.60,239.00 L418.88,239.12 L419.15,239.72 L419.42,242.30 L419.70,246.90 L420.05,243.59 L420.40,243.70 L420.72,243.56 L421.05,245.01 L421.38,252.54 L421.70,259.50 L421.98,262.90 L422.25,263.04 L422.52,264.11 L422.80,265.80 L423.00,261.61 L423.20,256.41 L423.60,250.00 L424.00,245.47 L424.40,245.14 L424.80,236.98 L425.00,234.76 L425.20,235.90 L425.57,236.68 L425.95,232.97 L426.32,226.14 L426.70,223.30 L427.02,224.05 L427.35,221.28 L427.68,222.73 L428.00,218.60 L428.27,219.99 L428.55,222.30 L428.83,228.67 L429.10,229.60 L429.50,243.80 L429.90,250.88 L430.30,250.94 L430.50,254.36 L430.70,256.30 L431.05,254.85 L431.40,254.70 L431.80,246.79 L432.00,243.58 L432.20,241.96 L432.40,241.82 L432.60,235.75 L433.00,229.60 L433.40,228.19 L433.60,226.54 L433.80,224.80 L434.00,221.20 L434.20,218.35 L434.60,215.40 L435.00,216.62 L435.40,213.98 L435.80,213.76 L436.00,209.51 L436.20,204.40 L436.57,198.37 L436.95,199.64 L437.32,198.21 L437.70,195.00 L438.05,182.70 L438.40,177.90 L438.67,164.22 L438.95,152.96 L439.23,136.33 L439.50,119.70 L439.80,124.83 L440.10,135.40 L440.40,154.05 L440.70,174.70 L441.02,170.59 L441.35,161.74 L441.68,158.54 L442.00,154.30 L442.27,155.64 L442.55,164.43 L442.83,172.58 L443.10,181.00 L443.38,171.92 L443.65,167.12 L443.92,162.65 L444.20,155.90 L444.50,159.39 L444.80,162.42 L445.10,165.02 L445.40,170.00 L445.80,157.97 L446.00,150.39 L446.20,148.08 L446.40,144.93 L446.60,140.45 L447.00,129.90 L447.40,131.43 L447.60,133.85 L447.80,132.48 L448.00,138.37 L448.20,139.99 L448.60,146.40 L448.90,151.15 L449.20,155.89 L449.50,158.78 L449.80,166.90 L450.00,161.98 L450.20,160.00 L450.60,161.57 L451.00,162.45 L451.40,162.20 L451.67,171.05 L451.95,175.42 L452.23,180.86 L452.50,185.80 L452.90,182.40 L453.10,179.46 L453.30,176.99 L453.50,181.72 L453.70,180.00 L454.10,174.70 L454.50,178.71 L454.90,188.01 L455.30,190.28 L455.50,192.95 L455.70,195.00 L456.00,206.72 L456.30,221.30 L456.50,220.71 L456.70,217.36 L457.10,210.22 L457.50,203.49 L457.90,195.70 L458.27,190.92 L458.65,189.94 L459.02,189.59 L459.40,189.80 L459.75,199.22 L460.10,201.78 L460.45,205.82 L460.80,205.60 L461.15,213.03 L461.50,217.52 L461.85,224.15 L462.20,227.20 L462.40,227.72 L462.60,233.29 L463.00,235.40 L463.40,237.47 L463.60,236.92 L463.80,235.10 L464.04,233.41 L464.27,230.68 L464.51,227.05 L464.75,223.60 L464.99,219.61 L465.23,215.22 L465.46,216.31 L465.70,215.40 L465.95,216.11 L466.20,215.13 L466.45,220.45 L466.70,223.12 L466.95,226.16 L467.20,227.63 L467.45,228.77 L467.70,231.20 L467.90,229.21 L468.10,228.39 L468.50,223.14 L468.90,221.69 L469.10,225.90 L469.30,219.40 L469.55,220.20 L469.80,226.96 L470.05,230.57 L470.30,233.82 L470.55,235.80 L470.80,240.38 L471.05,241.25 L471.30,243.00 L471.54,237.67 L471.77,234.47 L472.01,230.02 L472.25,223.12 L472.49,223.63 L472.73,224.72 L472.96,223.82 L473.20,219.40 L473.45,222.54 L473.70,226.70 L473.95,229.32 L474.20,235.07 L474.45,241.82 L474.70,245.32 L474.95,245.26 L475.20,248.90 L475.45,244.73 L475.70,246.10 L475.95,248.80 L476.20,247.10 L476.45,245.61 L476.70,239.77 L476.95,239.80 L477.20,239.10 L477.44,243.85 L477.67,244.46 L477.91,246.47 L478.15,247.23 L478.39,248.83 L478.62,249.53 L478.86,251.18 L479.10,248.90 L479.35,250.42 L479.60,246.40 L479.85,242.39 L480.10,238.61 L480.35,236.39 L480.60,236.05 L480.85,233.09 L481.10,231.20 L481.40,227.72 L481.70,227.80 L482.00,227.02 L482.30,226.35 L482.60,225.54 L482.90,223.42 L483.20,222.84 L483.50,219.40 L483.74,217.82 L483.98,216.85 L484.21,210.61 L484.45,207.14 L484.69,207.58 L484.92,206.43 L485.16,208.58 L485.40,207.60 L485.80,203.91 L486.00,199.08 L486.20,199.50 L486.40,198.08 L486.60,197.04 L487.00,193.80 L487.25,200.06 L487.50,199.74 L487.75,202.30 L488.00,201.07 L488.25,205.47 L488.50,204.25 L488.75,207.26 L489.00,211.50 L489.24,213.02 L489.48,212.91 L489.71,216.07 L489.95,217.25 L490.19,218.57 L490.42,220.64 L490.66,221.72 L490.90,223.30 L491.25,227.25 L491.60,226.97 L491.95,228.90 L492.30,233.10 L492.65,235.39 L493.00,238.60 L493.35,240.17 L493.70,245.00 L494.02,241.22 L494.35,235.73 L494.68,236.57 L495.00,235.15 L495.32,235.97 L495.65,230.29 L495.98,227.03 L496.30,227.20 L496.62,227.64 L496.95,230.32 L497.28,229.97 L497.60,230.62 L497.93,231.76 L498.25,232.64 L498.57,231.61 L498.90,229.40 L499.15,226.66 L499.40,230.05 L499.65,228.47 L499.90,229.58 L500.15,227.90 L500.40,226.70 L500.65,221.13 L500.90,219.50 L501.20,219.39 L501.50,213.25 L501.80,206.70 L502.10,205.17 L502.40,203.48 L502.70,199.79 L503.00,202.16 L503.30,206.70 L503.68,207.74 L504.05,210.22 L504.43,210.89 L504.80,215.60 L505.00,219.09 L505.20,221.40 L505.60,222.94 L506.00,223.88 L506.40,227.40 L506.65,230.01 L506.90,230.49 L507.15,230.61 L507.40,234.15 L507.65,236.15 L507.90,235.42 L508.15,236.72 L508.40,233.30 L508.69,230.60 L508.97,230.16 L509.26,229.09 L509.55,224.56 L509.84,225.51 L510.12,222.23 L510.41,218.16 L510.70,215.60 L510.95,215.50 L511.20,216.15 L511.45,215.24 L511.70,217.05 L511.95,222.14 L512.20,223.79 L512.45,226.31 L512.70,227.40 L512.95,227.40 L513.20,230.95 L513.45,230.64 L513.70,232.45 L513.95,232.48 L514.20,230.02 L514.45,231.39 L514.70,229.40 L514.95,232.54 L515.20,238.66 L515.45,240.48 L515.70,242.70 L515.95,248.51 L516.20,252.70 L516.45,255.75 L516.70,255.00 L516.94,246.75 L517.18,241.56 L517.41,240.80 L517.65,236.47 L517.89,236.13 L518.12,237.96 L518.36,232.89 L518.60,231.30 L518.85,231.98 L519.10,230.63 L519.35,232.01 L519.60,234.53 L519.85,240.89 L520.10,244.64 L520.35,243.63 L520.60,245.10 L520.85,247.06 L521.10,246.14 L521.35,248.70 L521.60,247.96 L521.85,249.43 L522.10,247.65 L522.35,249.41 L522.60,249.10 L522.84,250.31 L523.08,249.10 L523.31,247.90 L523.55,247.81 L523.79,249.04 L524.02,245.78 L524.26,246.45 L524.50,247.10 L524.83,241.67 L525.15,242.31 L525.47,238.68 L525.80,234.81 L526.12,230.11 L526.45,227.15 L526.78,223.60 L527.10,227.40 L527.39,229.32 L527.67,231.93 L527.96,229.38 L528.25,231.53 L528.54,235.12 L528.83,241.14 L529.11,244.05 L529.40,241.20 L529.65,243.19 L529.90,238.50 L530.15,240.11 L530.40,243.27 L530.65,247.86 L530.90,248.14 L531.15,246.25 L531.40,249.10 L531.65,250.52 L531.90,249.73 L532.15,251.49 L532.40,253.28 L532.65,252.69 L532.90,251.88 L533.15,255.78 L533.40,256.90 L533.65,258.39 L533.90,261.78 L534.15,262.68 L534.40,263.76 L534.65,266.71 L534.90,269.13 L535.15,273.22 L535.40,272.70 L535.62,276.23 L535.85,276.86 L536.07,277.87 L536.30,276.40 L536.57,271.68 L536.85,271.33 L537.12,270.39 L537.40,265.40 L537.67,268.94 L537.95,271.62 L538.23,269.59 L538.50,268.50 L538.80,267.33 L539.10,261.37 L539.40,258.46 L539.70,254.40 L540.10,242.73 L540.50,235.50 L540.77,239.34 L541.05,246.06 L541.33,251.41 L541.60,257.50 L541.85,254.41 L542.10,254.44 L542.35,257.85 L542.60,255.90 L542.88,252.33 L543.15,254.82 L543.43,249.62 L543.70,248.10 L543.98,250.72 L544.25,254.78 L544.52,256.69 L544.80,263.80 L545.10,261.49 L545.40,265.49 L545.70,265.23 L546.00,262.20 L546.33,261.31 L546.65,261.89 L546.97,258.37 L547.30,257.50 L547.70,257.56 L548.10,256.92 L548.30,252.28 L548.50,251.66 L548.90,255.90 L549.17,259.20 L549.45,262.89 L549.73,264.17 L550.00,267.00 L550.35,268.80 L550.70,274.80 L551.10,270.01 L551.50,268.66 L551.90,274.20 L552.30,267.00 L552.70,269.68 L553.10,265.34 L553.30,267.84 L553.50,269.63 L553.90,271.70 L554.30,273.16 L554.50,277.33 L554.70,276.31 L555.10,279.13 L555.50,279.60 L555.80,278.15 L556.10,277.14 L556.40,276.38 L556.70,274.80 L556.98,271.13 L557.25,268.63 L557.52,267.40 L557.80,268.50 L558.20,267.37 L558.60,263.47 L558.80,258.75 L559.00,254.71 L559.40,254.40 L559.67,254.48 L559.95,259.41 L560.23,257.04 L560.50,259.10 L560.83,257.94 L561.15,257.27 L561.47,252.53 L561.80,249.60 L562.00,239.87 L562.20,229.56 L562.60,215.00 L562.90,191.42 L563.20,170.00 L563.50,156.68 L563.80,142.50 L564.10,154.60 L564.40,165.00 L564.65,158.78 L564.90,150.00 L565.30,185.00 L565.50,171.99 L565.70,160.00 L566.10,207.00 L566.50,196.00" fill="none" stroke="#da904c" stroke-width="1.45" stroke-linejoin="round"/>
<path d="M63.70,347.20 L64.05,347.24 L64.40,347.48 L64.75,347.32 L65.10,347.51 L65.45,348.42 L65.80,349.27 L66.15,349.53 L66.50,350.00 L66.84,349.34 L67.17,349.61 L67.51,349.16 L67.85,349.73 L68.19,349.11 L68.53,347.99 L68.86,347.71 L69.20,346.80 L69.41,347.59 L69.61,347.99 L69.82,348.27 L70.03,347.76 L70.23,347.45 L70.44,347.45 L70.64,347.27 L70.85,346.58 L71.06,346.90 L71.26,346.03 L71.47,346.05 L71.67,345.60 L71.88,345.23 L72.09,344.87 L72.29,345.38 L72.50,344.50 L72.79,345.35 L73.08,345.74 L73.36,346.18 L73.65,346.22 L73.94,346.72 L74.22,347.52 L74.51,347.72 L74.80,348.20 L75.03,348.61 L75.25,348.49 L75.47,349.25 L75.70,349.04 L75.92,349.28 L76.15,349.16 L76.38,349.30 L76.60,350.00 L76.84,350.02 L77.07,349.94 L77.31,349.88 L77.55,350.05 L77.79,350.15 L78.03,349.34 L78.26,350.05 L78.50,350.90 L78.70,350.24 L78.90,350.37 L79.30,350.29 L79.70,349.78 L79.90,349.44 L80.10,348.83 L80.30,348.88 L80.50,348.69 L80.70,347.94 L80.90,347.82 L81.10,348.25 L81.30,348.50 L81.70,347.70 L81.93,347.99 L82.15,348.16 L82.38,348.49 L82.60,348.19 L82.82,348.70 L83.05,348.53 L83.28,349.57 L83.50,350.00 L83.85,350.44 L84.20,349.84 L84.55,349.70 L84.90,348.97 L85.25,348.18 L85.60,347.98 L85.95,347.84 L86.30,346.80 L86.70,346.96 L86.90,347.18 L87.10,346.95 L87.30,346.49 L87.50,345.82 L87.70,345.55 L87.90,346.70 L88.10,347.30 L88.30,346.78 L88.70,345.97 L89.10,345.26 L89.30,345.22 L89.50,344.90 L89.74,344.72 L89.97,344.05 L90.21,344.60 L90.45,345.14 L90.69,344.95 L90.93,345.32 L91.16,345.36 L91.40,345.40 L91.75,345.63 L92.10,345.59 L92.45,346.32 L92.80,344.35 L93.15,343.86 L93.50,343.53 L93.85,343.31 L94.20,343.10 L94.43,342.83 L94.66,343.32 L94.89,343.17 L95.12,342.93 L95.36,342.24 L95.59,342.41 L95.82,341.68 L96.05,340.83 L96.28,341.35 L96.51,341.58 L96.74,340.80 L96.98,340.25 L97.21,340.65 L97.44,339.85 L97.67,339.74 L97.90,339.90 L98.24,340.17 L98.58,340.55 L98.91,341.60 L99.25,342.80 L99.59,342.41 L99.92,342.15 L100.26,342.45 L100.60,342.20 L100.83,342.51 L101.06,341.87 L101.29,340.89 L101.52,340.32 L101.76,339.57 L101.99,340.39 L102.22,340.61 L102.45,340.16 L102.68,340.41 L102.91,339.30 L103.14,338.71 L103.38,338.88 L103.61,338.66 L103.84,339.07 L104.07,338.58 L104.30,339.20 L104.53,338.87 L104.76,338.87 L104.99,339.51 L105.22,339.66 L105.46,339.25 L105.69,339.64 L105.92,340.16 L106.15,339.72 L106.38,340.06 L106.61,341.03 L106.84,341.58 L107.08,341.06 L107.31,340.53 L107.54,341.06 L107.77,341.51 L108.00,342.20 L108.35,341.74 L108.70,341.67 L109.05,341.49 L109.40,340.80 L109.75,340.72 L110.10,341.10 L110.45,339.99 L110.80,339.90 L111.15,340.46 L111.50,340.36 L111.85,341.11 L112.20,341.20 L112.43,342.35 L112.65,344.07 L112.88,345.64 L113.10,347.20 L113.45,346.64 L113.80,346.59 L114.15,346.26 L114.50,344.90 L114.84,345.17 L115.17,345.88 L115.51,346.72 L115.85,346.50 L116.19,346.28 L116.53,347.15 L116.86,347.75 L117.20,347.70 L117.45,347.30 L117.70,346.77 L117.95,345.60 L118.20,344.81 L118.45,344.11 L118.70,343.70 L118.95,342.80 L119.20,342.40 L119.49,342.84 L119.78,343.20 L120.06,343.16 L120.35,343.14 L120.64,343.40 L120.92,343.22 L121.21,343.62 L121.50,343.80 L121.79,344.71 L122.08,344.12 L122.36,343.55 L122.65,344.04 L122.94,343.95 L123.22,343.47 L123.51,343.51 L123.80,342.90 L124.06,342.66 L124.31,341.71 L124.57,341.49 L124.82,340.52 L125.08,340.02 L125.34,339.42 L125.59,339.94 L125.85,339.68 L126.11,339.18 L126.36,339.12 L126.62,338.88 L126.88,339.48 L127.13,339.63 L127.39,339.91 L127.64,339.43 L127.90,339.20 L128.16,338.43 L128.43,338.28 L128.69,338.23 L128.95,338.17 L129.21,338.07 L129.47,337.64 L129.74,337.52 L130.00,337.27 L130.26,337.53 L130.53,337.58 L130.79,337.83 L131.05,337.89 L131.31,337.87 L131.57,337.04 L131.84,336.80 L132.10,336.90 L132.30,336.98 L132.50,337.35 L132.90,337.24 L133.10,337.45 L133.30,337.07 L133.50,336.80 L133.70,336.10 L133.90,335.90 L134.10,336.29 L134.30,336.13 L134.50,336.30 L134.70,336.33 L134.90,336.84 L135.10,337.47 L135.30,337.80 L135.59,338.31 L135.88,338.67 L136.16,338.58 L136.45,338.88 L136.74,339.72 L137.02,340.05 L137.31,340.93 L137.60,341.00 L137.81,341.63 L138.01,341.50 L138.22,341.12 L138.43,341.50 L138.63,341.26 L138.84,340.29 L139.04,340.05 L139.25,339.92 L139.46,339.75 L139.66,340.40 L139.87,340.27 L140.07,339.86 L140.28,340.34 L140.49,340.34 L140.69,339.81 L140.90,339.20 L141.24,339.45 L141.57,339.10 L141.91,339.53 L142.25,338.95 L142.59,338.84 L142.93,338.28 L143.26,338.17 L143.60,337.80 L143.81,337.97 L144.01,337.44 L144.22,337.95 L144.43,337.94 L144.63,337.42 L144.84,337.06 L145.04,336.64 L145.25,337.05 L145.46,336.51 L145.66,336.61 L145.87,336.03 L146.07,335.88 L146.28,335.30 L146.49,335.09 L146.69,334.83 L146.90,335.00 L147.24,335.02 L147.57,335.16 L147.91,334.63 L148.25,334.68 L148.59,335.06 L148.93,335.83 L149.26,336.21 L149.60,335.90 L149.89,336.19 L150.18,336.77 L150.46,336.18 L150.75,336.23 L151.04,336.38 L151.32,337.43 L151.61,337.46 L151.90,338.20 L152.25,338.08 L152.60,337.62 L152.95,337.63 L153.30,337.51 L153.65,337.38 L154.00,337.11 L154.35,337.04 L154.70,336.40 L154.93,336.00 L155.16,336.79 L155.39,336.03 L155.62,336.32 L155.86,336.17 L156.09,336.27 L156.32,335.62 L156.55,334.83 L156.78,335.38 L157.01,334.54 L157.24,334.05 L157.48,333.97 L157.71,333.82 L157.94,333.63 L158.17,333.09 L158.40,333.20 L158.75,332.86 L159.10,332.51 L159.45,332.45 L159.80,332.07 L160.15,331.01 L160.50,331.10 L160.85,332.29 L161.20,332.20 L161.43,331.95 L161.66,332.11 L161.89,332.89 L162.12,332.34 L162.36,331.59 L162.59,331.37 L162.82,331.62 L163.05,331.43 L163.28,331.08 L163.51,330.62 L163.74,331.14 L163.98,331.20 L164.21,330.64 L164.44,330.40 L164.67,330.90 L164.90,330.90 L165.24,330.01 L165.57,329.60 L165.91,330.17 L166.25,330.70 L166.59,329.37 L166.93,328.69 L167.26,327.97 L167.60,327.60 L167.95,328.06 L168.30,327.83 L168.65,328.83 L169.00,329.17 L169.35,330.18 L169.70,330.01 L170.05,329.77 L170.40,329.90 L170.61,330.32 L170.81,330.18 L171.02,329.67 L171.23,329.40 L171.43,328.51 L171.64,328.36 L171.84,327.91 L172.05,327.69 L172.26,327.10 L172.46,326.71 L172.67,326.65 L172.88,326.10 L173.08,326.13 L173.29,326.16 L173.49,325.51 L173.70,325.50 L174.05,326.31 L174.40,326.44 L174.75,326.76 L175.10,326.89 L175.45,327.23 L175.80,328.04 L176.15,328.43 L176.50,328.30 L176.84,327.74 L177.18,327.72 L177.51,328.07 L177.85,327.47 L178.19,327.00 L178.52,325.98 L178.86,325.66 L179.20,325.50 L179.43,325.14 L179.66,324.79 L179.89,325.17 L180.12,324.43 L180.36,324.52 L180.59,324.68 L180.82,324.31 L181.05,323.63 L181.28,324.10 L181.51,323.42 L181.74,323.50 L181.98,323.54 L182.21,323.09 L182.44,323.21 L182.67,322.42 L182.90,322.30 L183.13,322.14 L183.36,322.14 L183.59,321.88 L183.82,321.06 L184.06,320.57 L184.29,320.65 L184.52,320.67 L184.75,320.56 L184.98,320.17 L185.21,319.73 L185.44,320.39 L185.68,320.31 L185.91,319.96 L186.14,320.33 L186.37,320.19 L186.60,320.50 L186.95,320.34 L187.30,320.87 L187.65,321.14 L188.00,321.46 L188.35,322.72 L188.70,322.94 L189.05,323.15 L189.40,324.20 L189.69,323.89 L189.98,323.26 L190.26,321.88 L190.55,320.72 L190.84,320.37 L191.12,320.62 L191.41,320.21 L191.70,320.00 L192.05,320.01 L192.40,319.89 L192.75,320.17 L193.10,320.09 L193.45,319.80 L193.80,319.68 L194.15,319.59 L194.50,319.10 L194.72,320.24 L194.95,320.58 L195.18,320.49 L195.40,320.90 L195.69,319.94 L195.98,319.92 L196.26,320.48 L196.55,320.74 L196.84,321.05 L197.12,320.40 L197.41,319.37 L197.70,319.50 L197.96,319.38 L198.22,318.94 L198.49,319.33 L198.75,318.78 L199.01,318.01 L199.28,318.34 L199.54,318.35 L199.80,318.73 L200.06,318.78 L200.33,318.56 L200.59,317.82 L200.85,317.26 L201.11,316.67 L201.38,316.36 L201.64,316.46 L201.90,315.90 L202.10,315.91 L202.30,315.27 L202.70,315.32 L202.90,315.21 L203.10,315.47 L203.30,315.70 L203.50,315.49 L203.70,315.90 L203.90,317.03 L204.10,317.33 L204.30,317.73 L204.70,318.18 L204.90,317.43 L205.10,317.70 L205.39,317.19 L205.68,316.31 L205.96,315.53 L206.25,315.29 L206.54,315.09 L206.82,314.98 L207.11,314.86 L207.40,314.50 L207.69,313.22 L207.98,313.39 L208.26,313.96 L208.55,314.40 L208.84,315.19 L209.12,315.63 L209.41,315.23 L209.70,315.90 L210.05,316.25 L210.40,316.79 L210.75,317.81 L211.10,319.50 L211.39,317.99 L211.68,317.01 L211.96,316.01 L212.25,315.06 L212.54,314.74 L212.82,314.28 L213.11,313.76 L213.40,313.10 L213.75,312.91 L214.10,313.04 L214.45,312.93 L214.80,313.06 L215.15,313.07 L215.50,313.27 L215.85,313.05 L216.20,312.20 L216.40,314.03 L216.60,314.90 L216.95,313.89 L217.30,314.49 L217.65,313.41 L218.00,312.20 L218.29,312.19 L218.57,312.66 L218.86,312.61 L219.15,313.53 L219.44,313.37 L219.73,313.20 L220.01,312.71 L220.30,313.50 L220.65,312.96 L221.00,312.39 L221.35,311.87 L221.70,312.15 L222.05,311.91 L222.40,311.53 L222.75,310.91 L223.10,310.80 L223.34,311.29 L223.57,311.37 L223.81,311.00 L224.05,311.09 L224.29,311.12 L224.53,311.85 L224.76,311.87 L225.00,312.20 L225.29,311.62 L225.57,311.36 L225.86,310.81 L226.15,309.85 L226.44,309.41 L226.73,308.75 L227.01,308.45 L227.30,308.25 L227.59,308.52 L227.88,309.35 L228.16,308.43 L228.45,308.42 L228.74,308.99 L229.02,309.23 L229.31,309.69 L229.60,309.90 L229.83,310.51 L230.06,310.72 L230.29,310.31 L230.52,310.73 L230.76,311.16 L230.99,311.60 L231.22,310.66 L231.45,310.97 L231.68,311.32 L231.91,311.48 L232.14,312.40 L232.38,312.10 L232.61,311.83 L232.84,311.93 L233.07,311.77 L233.30,312.20 L233.65,312.16 L234.00,311.61 L234.35,311.36 L234.70,310.80 L234.92,310.57 L235.15,310.18 L235.38,311.10 L235.60,311.36 L235.82,311.18 L236.05,311.32 L236.28,311.21 L236.50,311.70 L236.75,313.12 L237.00,315.52 L237.25,317.92 L237.50,319.10 L237.79,318.17 L238.07,318.06 L238.36,318.00 L238.65,317.57 L238.94,317.31 L239.23,317.41 L239.51,316.92 L239.80,316.30 L240.03,317.14 L240.25,317.38 L240.47,317.98 L240.70,318.20 L241.05,318.17 L241.40,316.18 L241.75,315.73 L242.10,315.64 L242.45,313.89 L242.80,312.83 L243.15,312.17 L243.50,311.20 L243.84,312.57 L244.18,313.02 L244.51,312.37 L244.85,312.28 L245.19,312.01 L245.52,312.07 L245.86,311.92 L246.20,312.20 L246.44,312.53 L246.67,312.11 L246.91,312.44 L247.15,312.55 L247.39,312.79 L247.62,313.11 L247.86,312.75 L248.10,313.10 L248.45,314.45 L248.80,316.09 L249.15,318.10 L249.50,318.60 L249.79,318.37 L250.07,318.80 L250.36,319.29 L250.65,320.15 L250.94,320.46 L251.23,319.98 L251.51,319.93 L251.80,320.00 L252.03,319.60 L252.25,319.31 L252.47,319.48 L252.70,318.89 L252.92,319.07 L253.15,318.06 L253.38,317.62 L253.60,317.20 L253.95,317.07 L254.30,316.42 L254.65,316.55 L255.00,315.20 L255.35,314.19 L255.70,313.55 L256.05,312.73 L256.40,312.60 L256.75,313.14 L257.10,313.32 L257.45,313.60 L257.80,313.52 L258.15,312.88 L258.50,311.64 L258.85,311.72 L259.20,311.70 L259.54,311.65 L259.88,311.65 L260.21,311.55 L260.55,311.49 L260.89,311.10 L261.22,310.86 L261.56,311.07 L261.90,310.80 L262.14,311.27 L262.38,311.32 L262.61,310.89 L262.85,311.10 L263.09,312.04 L263.33,312.78 L263.56,313.24 L263.80,314.00 L264.02,313.69 L264.25,313.45 L264.48,312.70 L264.70,312.73 L264.93,312.44 L265.15,312.00 L265.38,310.80 L265.60,309.40 L265.95,309.80 L266.30,310.31 L266.65,310.25 L267.00,308.99 L267.35,309.63 L267.70,309.52 L268.05,309.46 L268.40,308.90 L268.75,308.27 L269.10,309.19 L269.45,308.38 L269.80,309.58 L270.15,308.85 L270.50,309.64 L270.85,309.58 L271.20,308.50 L271.54,308.93 L271.88,308.90 L272.21,310.26 L272.55,311.25 L272.89,309.88 L273.22,309.96 L273.56,309.65 L273.90,309.40 L274.25,309.35 L274.60,309.30 L274.95,309.33 L275.30,309.29 L275.65,308.75 L276.00,307.98 L276.35,308.15 L276.70,306.60 L277.05,306.06 L277.40,304.87 L277.75,304.77 L278.10,305.06 L278.45,304.35 L278.80,304.67 L279.15,304.68 L279.50,304.80 L279.84,304.41 L280.18,304.31 L280.51,303.29 L280.85,303.35 L281.19,303.24 L281.52,303.19 L281.86,302.15 L282.20,302.50 L282.50,302.32 L282.80,302.17 L283.10,301.52 L283.40,301.08 L283.70,300.77 L284.00,300.89 L284.30,300.26 L284.60,300.10 L284.95,300.11 L285.30,300.58 L285.65,300.99 L286.00,301.21 L286.35,301.71 L286.70,301.50 L287.05,301.89 L287.40,301.50 L287.75,300.94 L288.10,301.06 L288.45,300.93 L288.80,300.63 L289.15,300.61 L289.50,299.94 L289.85,300.08 L290.20,299.60 L290.43,300.12 L290.66,299.71 L290.89,300.14 L291.12,299.51 L291.36,298.52 L291.59,299.25 L291.82,299.55 L292.05,299.47 L292.28,299.24 L292.51,298.72 L292.74,298.78 L292.97,297.91 L293.21,297.92 L293.44,297.99 L293.67,297.93 L293.90,298.20 L294.24,298.11 L294.57,297.59 L294.91,298.05 L295.25,298.24 L295.59,298.38 L295.93,298.73 L296.26,298.39 L296.60,297.80 L296.83,297.34 L297.06,297.21 L297.29,297.34 L297.53,297.42 L297.76,297.76 L297.99,297.45 L298.22,297.07 L298.45,297.04 L298.68,297.35 L298.91,297.12 L299.14,296.96 L299.38,296.64 L299.61,296.41 L299.84,296.37 L300.07,296.15 L300.30,295.90 L300.53,294.55 L300.76,294.65 L300.99,294.48 L301.23,293.99 L301.46,294.12 L301.69,294.46 L301.92,294.37 L302.15,294.15 L302.38,294.41 L302.61,293.75 L302.84,293.60 L303.07,293.54 L303.31,293.39 L303.54,293.27 L303.77,293.60 L304.00,292.70 L304.23,291.96 L304.46,291.64 L304.69,291.39 L304.93,291.70 L305.16,291.23 L305.39,291.40 L305.62,290.61 L305.85,290.42 L306.08,289.94 L306.31,290.05 L306.54,290.75 L306.77,290.48 L307.01,290.21 L307.24,290.41 L307.47,291.09 L307.70,290.90 L308.05,290.28 L308.40,290.85 L308.75,290.12 L309.10,289.59 L309.45,289.44 L309.80,289.11 L310.15,288.82 L310.50,288.10 L310.73,288.01 L310.95,287.24 L311.17,286.79 L311.40,285.87 L311.62,284.84 L311.85,283.68 L312.08,283.29 L312.30,282.10 L312.52,284.60 L312.75,286.76 L312.98,289.68 L313.20,292.20 L313.44,291.94 L313.67,290.18 L313.91,289.42 L314.15,289.60 L314.39,289.32 L314.62,287.46 L314.86,285.97 L315.10,285.30 L315.39,287.24 L315.68,287.85 L315.96,289.48 L316.25,290.10 L316.54,290.32 L316.82,291.04 L317.11,291.32 L317.40,291.80 L317.69,291.05 L317.97,290.02 L318.26,289.30 L318.55,289.54 L318.84,289.49 L319.12,289.46 L319.41,289.20 L319.70,289.00 L319.99,288.71 L320.27,287.85 L320.56,287.55 L320.85,287.87 L321.14,287.75 L321.43,287.72 L321.71,288.15 L322.00,288.10 L322.29,289.03 L322.57,289.39 L322.86,289.32 L323.15,288.77 L323.44,288.36 L323.73,288.07 L324.01,287.32 L324.30,286.70 L324.65,286.70 L325.00,286.25 L325.35,286.75 L325.70,287.60 L325.99,288.01 L326.27,287.81 L326.56,287.22 L326.85,285.83 L327.14,285.29 L327.43,285.10 L327.71,284.09 L328.00,283.50 L328.29,282.96 L328.57,282.28 L328.86,282.18 L329.15,281.58 L329.44,281.62 L329.73,281.88 L330.01,281.37 L330.30,281.60 L330.59,280.81 L330.88,281.34 L331.16,281.09 L331.45,280.75 L331.74,280.03 L332.03,279.60 L332.31,279.66 L332.60,279.80 L332.84,279.90 L333.08,279.97 L333.31,279.96 L333.55,280.56 L333.79,281.41 L334.02,281.84 L334.26,282.35 L334.50,282.50 L334.73,283.63 L334.95,284.86 L335.17,286.39 L335.40,288.10 L335.62,287.74 L335.85,287.67 L336.07,287.14 L336.30,286.58 L336.52,286.25 L336.75,286.10 L336.98,285.73 L337.20,284.90 L337.55,286.90 L337.90,288.90 L338.20,290.19 L338.50,291.36 L338.80,292.46 L339.10,293.84 L339.40,295.90 L339.70,298.22 L340.00,298.96 L340.30,300.70 L340.52,299.62 L340.75,298.23 L340.98,297.84 L341.20,295.92 L341.43,295.05 L341.65,293.68 L341.88,292.28 L342.10,291.30 L342.32,290.57 L342.54,290.10 L342.76,289.57 L342.98,289.04 L343.19,288.19 L343.41,288.05 L343.63,287.59 L343.85,287.58 L344.07,287.43 L344.29,286.80 L344.51,287.37 L344.73,286.97 L344.94,286.66 L345.16,285.80 L345.38,285.86 L345.60,285.40 L345.89,284.80 L346.19,284.73 L346.48,284.68 L346.78,283.40 L347.07,282.63 L347.36,280.94 L347.66,280.67 L347.95,280.20 L348.24,279.52 L348.54,279.89 L348.83,279.89 L349.12,279.46 L349.42,280.18 L349.71,280.05 L350.01,280.57 L350.30,280.10 L350.52,279.44 L350.75,280.52 L350.98,281.28 L351.20,281.45 L351.43,281.96 L351.65,282.32 L351.88,282.78 L352.10,282.18 L352.33,282.08 L352.55,282.24 L352.77,282.92 L353.00,283.76 L353.23,284.12 L353.45,284.71 L353.67,284.38 L353.90,285.40 L354.19,284.89 L354.47,283.60 L354.76,282.54 L355.05,281.92 L355.34,280.99 L355.62,280.39 L355.91,280.56 L356.20,280.10 L356.50,279.87 L356.80,279.16 L357.10,279.64 L357.40,279.18 L357.70,278.33 L358.00,278.24 L358.30,277.59 L358.60,276.50 L358.82,276.89 L359.04,277.29 L359.26,277.03 L359.48,276.45 L359.69,277.34 L359.91,277.24 L360.13,277.21 L360.35,276.99 L360.57,276.86 L360.79,277.13 L361.01,277.18 L361.23,277.29 L361.44,277.08 L361.66,277.75 L361.88,277.80 L362.10,278.30 L362.32,278.32 L362.54,277.90 L362.76,277.41 L362.98,276.81 L363.19,276.23 L363.41,275.69 L363.63,275.13 L363.85,275.37 L364.07,274.87 L364.29,274.75 L364.51,275.61 L364.73,275.43 L364.94,275.08 L365.16,275.30 L365.38,274.99 L365.60,274.80 L365.83,273.93 L366.05,273.57 L366.27,273.19 L366.50,272.69 L366.73,272.38 L366.95,272.58 L367.17,271.78 L367.40,271.53 L367.62,271.13 L367.85,270.65 L368.07,270.27 L368.30,270.29 L368.52,269.83 L368.75,269.77 L368.98,270.19 L369.20,270.00 L369.42,269.81 L369.64,270.17 L369.86,270.58 L370.07,270.17 L370.29,270.18 L370.51,270.56 L370.73,269.64 L370.95,269.08 L371.17,269.19 L371.39,269.06 L371.61,269.38 L371.82,268.45 L372.04,267.69 L372.26,267.40 L372.48,266.85 L372.70,266.50 L373.07,266.66 L373.45,265.83 L373.82,265.69 L374.20,264.93 L374.57,264.55 L374.95,263.58 L375.32,263.22 L375.70,263.00 L375.98,266.10 L376.25,268.42 L376.52,270.21 L376.80,272.40 L377.10,276.21 L377.40,280.93 L377.70,285.08 L378.00,288.90 L378.30,296.58 L378.60,304.20 L378.83,301.41 L379.05,299.13 L379.27,296.94 L379.50,295.08 L379.73,292.82 L379.95,290.15 L380.17,287.53 L380.40,285.40 L380.62,284.62 L380.85,283.36 L381.07,282.84 L381.30,281.79 L381.52,281.42 L381.75,280.65 L381.98,280.66 L382.20,280.60 L382.56,280.03 L382.92,278.48 L383.29,277.05 L383.65,276.16 L384.01,275.79 L384.38,274.56 L384.74,272.13 L385.10,270.60 L385.33,270.64 L385.55,271.62 L385.77,271.46 L386.00,271.76 L386.23,272.58 L386.45,273.49 L386.67,274.19 L386.90,274.80 L387.12,274.52 L387.34,273.00 L387.56,272.01 L387.77,270.77 L387.99,270.03 L388.21,269.21 L388.43,268.73 L388.65,267.63 L388.87,266.51 L389.09,266.56 L389.31,266.33 L389.52,266.25 L389.74,266.17 L389.96,265.01 L390.18,264.30 L390.40,264.10 L390.65,262.99 L390.90,261.39 L391.15,260.52 L391.40,260.48 L391.65,259.27 L391.90,258.20 L392.15,257.08 L392.40,255.90 L392.66,257.15 L392.92,258.01 L393.19,259.31 L393.45,261.20 L393.71,262.22 L393.98,263.82 L394.24,265.15 L394.50,266.50 L394.81,265.07 L395.12,264.22 L395.44,263.62 L395.75,262.16 L396.06,261.09 L396.38,259.98 L396.69,258.20 L397.00,258.00 L397.38,256.78 L397.75,255.74 L398.12,254.69 L398.50,255.25 L398.88,254.16 L399.25,254.46 L399.62,252.92 L400.00,251.60 L400.40,249.93 L400.60,249.12 L400.80,249.32 L401.00,250.01 L401.20,249.49 L401.60,248.50 L401.84,248.09 L402.08,248.00 L402.31,247.05 L402.55,246.80 L402.79,247.01 L403.02,246.84 L403.26,245.70 L403.50,245.30 L403.80,245.64 L404.10,246.03 L404.40,246.35 L404.70,246.90 L404.94,245.90 L405.17,244.98 L405.41,244.18 L405.65,243.67 L405.89,242.57 L406.12,241.98 L406.36,241.76 L406.60,240.60 L407.00,240.76 L407.40,241.13 L407.80,241.75 L408.00,241.97 L408.20,242.20 L408.45,241.18 L408.70,240.97 L408.95,239.75 L409.20,238.99 L409.45,238.62 L409.70,238.41 L409.95,237.71 L410.20,237.50 L410.50,236.35 L410.80,235.66 L411.10,234.76 L411.40,234.72 L411.70,233.36 L412.00,232.72 L412.30,232.36 L412.60,232.00 L412.89,232.23 L413.18,231.88 L413.46,231.74 L413.75,231.96 L414.04,231.69 L414.32,231.41 L414.61,232.64 L414.90,232.70 L415.20,231.10 L415.50,230.33 L415.80,228.75 L416.10,228.27 L416.40,228.35 L416.70,228.50 L417.00,228.22 L417.30,228.00 L417.60,226.92 L417.90,226.66 L418.20,226.79 L418.50,225.89 L418.80,225.09 L419.10,225.74 L419.40,225.59 L419.70,225.70 L420.07,224.96 L420.45,224.88 L420.82,223.56 L421.20,222.50 L421.50,222.34 L421.80,221.88 L422.10,221.13 L422.40,220.86 L422.70,220.61 L423.00,219.92 L423.30,219.28 L423.60,219.40 L423.89,220.08 L424.18,220.97 L424.46,221.26 L424.75,222.27 L425.04,223.54 L425.32,224.75 L425.61,225.11 L425.90,225.70 L426.20,224.17 L426.50,222.03 L426.80,219.64 L427.10,217.33 L427.40,215.95 L427.70,215.20 L428.00,214.83 L428.30,213.10 L428.60,214.85 L428.90,215.05 L429.20,214.29 L429.50,214.84 L429.80,214.38 L430.10,215.41 L430.40,215.51 L430.70,215.40 L431.02,214.77 L431.35,213.70 L431.68,213.21 L432.00,212.64 L432.32,211.75 L432.65,211.08 L432.98,210.81 L433.30,209.90 L433.50,211.19 L433.70,212.32 L434.10,214.10 L434.50,215.75 L434.90,217.80 L435.30,217.53 L435.50,217.10 L435.70,217.10 L435.90,217.16 L436.10,216.78 L436.50,217.00 L436.75,218.40 L437.00,219.69 L437.25,221.02 L437.50,222.62 L437.75,224.17 L438.00,225.87 L438.25,226.94 L438.50,228.00 L438.84,225.62 L439.18,224.22 L439.51,222.86 L439.85,221.21 L440.19,220.31 L440.52,218.98 L440.86,217.45 L441.20,216.20 L441.45,217.62 L441.70,219.30 L441.95,220.16 L442.20,222.11 L442.45,224.16 L442.70,225.93 L442.95,227.24 L443.20,228.00 L443.50,228.71 L443.80,229.47 L444.10,230.40 L444.40,231.69 L444.70,232.65 L445.00,233.51 L445.30,233.64 L445.60,234.30 L446.00,239.41 L446.40,242.32 L446.80,246.14 L447.00,248.20 L447.20,250.00 L447.57,248.63 L447.95,247.99 L448.32,245.95 L448.70,243.70 L449.02,244.06 L449.35,243.96 L449.68,243.25 L450.00,243.00 L450.30,241.49 L450.60,239.32 L450.90,237.79 L451.20,235.57 L451.50,233.25 L451.80,230.90 L452.10,229.29 L452.40,228.20 L452.64,229.37 L452.88,230.32 L453.11,231.10 L453.35,232.82 L453.59,234.09 L453.83,235.04 L454.06,236.45 L454.30,237.10 L454.62,239.25 L454.95,241.82 L455.28,244.67 L455.60,246.57 L455.93,248.58 L456.25,250.38 L456.57,252.29 L456.90,253.80 L457.15,251.72 L457.40,250.22 L457.65,248.49 L457.90,247.47 L458.15,246.11 L458.40,245.93 L458.65,244.41 L458.90,243.00 L459.21,242.15 L459.52,241.04 L459.84,240.21 L460.15,239.99 L460.46,238.45 L460.77,237.82 L461.09,237.94 L461.40,237.10 L461.70,238.26 L462.00,239.02 L462.30,240.04 L462.60,240.77 L462.90,241.92 L463.20,242.51 L463.50,244.12 L463.80,245.00 L464.16,243.66 L464.52,241.92 L464.89,240.35 L465.25,237.96 L465.61,236.84 L465.98,235.85 L466.34,234.18 L466.70,233.10 L467.07,234.48 L467.45,235.54 L467.82,236.35 L468.20,237.55 L468.57,239.09 L468.95,239.92 L469.32,240.88 L469.70,241.00 L470.06,240.43 L470.42,239.12 L470.79,237.35 L471.15,236.59 L471.51,235.62 L471.88,234.45 L472.24,233.22 L472.60,233.10 L472.98,232.30 L473.35,232.64 L473.73,232.59 L474.10,232.08 L474.48,232.35 L474.85,231.64 L475.23,231.41 L475.60,231.20 L475.96,230.02 L476.33,228.51 L476.69,226.50 L477.05,225.87 L477.41,224.93 L477.77,223.43 L478.14,222.66 L478.50,221.30 L478.88,220.55 L479.25,219.87 L479.62,219.94 L480.00,219.65 L480.38,219.16 L480.75,218.54 L481.12,218.70 L481.50,217.40 L481.80,218.04 L482.10,219.34 L482.40,220.53 L482.70,221.70 L483.00,222.07 L483.30,223.16 L483.60,222.90 L483.90,223.30 L484.21,222.95 L484.52,222.93 L484.84,222.16 L485.15,221.42 L485.46,222.03 L485.77,222.18 L486.09,221.63 L486.40,221.30 L486.77,222.64 L487.15,223.90 L487.52,224.46 L487.90,225.26 L488.27,226.54 L488.65,228.37 L489.02,229.87 L489.40,231.20 L489.76,228.84 L490.12,226.28 L490.49,224.64 L490.85,222.52 L491.21,221.01 L491.58,218.80 L491.94,216.96 L492.30,213.50 L492.68,213.32 L493.05,212.85 L493.43,212.54 L493.80,212.20 L494.18,211.20 L494.55,210.35 L494.93,210.00 L495.30,209.50 L495.64,208.66 L495.98,207.39 L496.31,206.97 L496.65,205.30 L496.99,204.49 L497.32,203.91 L497.66,203.02 L498.00,202.60 L498.24,201.85 L498.48,201.39 L498.71,200.33 L498.95,199.67 L499.19,199.65 L499.42,198.72 L499.66,199.13 L499.90,198.70 L500.27,197.39 L500.65,196.98 L501.02,195.47 L501.40,195.63 L501.77,194.17 L502.15,193.30 L502.52,193.13 L502.90,191.80 L503.14,192.83 L503.38,192.98 L503.61,194.47 L503.85,195.58 L504.09,196.64 L504.33,197.47 L504.56,198.79 L504.80,199.70 L505.18,198.11 L505.55,196.37 L505.93,195.41 L506.30,193.96 L506.68,192.42 L507.05,191.73 L507.43,189.95 L507.80,188.90 L508.16,187.40 L508.52,186.11 L508.89,185.74 L509.25,183.94 L509.61,182.17 L509.98,180.59 L510.34,179.41 L510.70,179.00 L510.95,180.33 L511.20,181.40 L511.45,182.17 L511.70,182.11 L511.95,182.70 L512.20,183.10 L512.45,184.44 L512.70,184.90 L512.95,186.81 L513.20,189.19 L513.45,191.02 L513.70,193.80 L513.95,192.36 L514.20,190.04 L514.45,188.28 L514.70,186.39 L514.95,184.34 L515.20,181.77 L515.45,179.51 L515.70,177.10 L516.06,176.33 L516.43,176.00 L516.79,175.78 L517.15,175.51 L517.51,174.45 L517.88,173.54 L518.24,173.13 L518.60,172.10 L518.85,172.33 L519.10,171.45 L519.35,170.75 L519.60,170.88 L519.85,170.28 L520.10,169.79 L520.35,169.81 L520.60,169.20 L520.96,169.05 L521.33,167.76 L521.69,166.72 L522.05,165.73 L522.41,164.88 L522.77,163.12 L523.14,162.80 L523.50,161.30 L523.88,161.78 L524.25,162.33 L524.62,163.30 L525.00,163.99 L525.38,165.37 L525.75,166.16 L526.12,166.57 L526.50,168.20 L526.74,167.06 L526.98,165.40 L527.21,164.99 L527.45,163.95 L527.69,163.09 L527.92,162.23 L528.16,161.24 L528.40,160.30 L528.65,160.14 L528.90,159.67 L529.15,159.91 L529.40,159.75 L529.65,159.62 L529.90,159.22 L530.15,159.72 L530.40,159.30 L530.65,163.40 L530.90,165.76 L531.15,167.50 L531.40,170.15 L531.65,172.12 L531.90,174.37 L532.15,176.84 L532.40,179.00 L532.64,181.81 L532.88,184.26 L533.11,187.62 L533.35,190.79 L533.59,193.70 L533.82,196.29 L534.06,198.30 L534.30,200.70 L534.55,197.88 L534.80,195.15 L535.05,192.51 L535.30,190.03 L535.55,187.40 L535.80,184.52 L536.05,181.89 L536.30,179.00 L536.67,177.03 L537.05,176.39 L537.42,174.95 L537.80,173.01 L538.17,171.33 L538.55,168.89 L538.92,166.89 L539.30,165.20 L539.66,163.15 L540.02,161.19 L540.39,160.25 L540.75,158.68 L541.11,157.27 L541.48,155.59 L541.84,154.39 L542.20,153.40 L542.58,152.12 L542.95,151.06 L543.33,150.18 L543.70,148.90 L544.08,148.35 L544.45,147.30 L544.83,147.37 L545.20,147.50 L545.56,146.35 L545.93,145.68 L546.29,144.90 L546.65,144.30 L547.01,143.55 L547.38,142.00 L547.74,140.58 L548.10,139.70 L548.48,138.25 L548.85,137.06 L549.23,136.40 L549.60,135.52 L549.98,134.93 L550.35,134.44 L550.73,133.22 L551.10,131.80 L551.34,133.06 L551.58,134.50 L551.81,135.31 L552.05,136.29 L552.29,137.38 L552.52,138.63 L552.76,139.73 L553.00,140.70 L553.25,139.77 L553.50,138.31 L553.75,137.19 L554.00,136.20 L554.25,135.17 L554.50,133.83 L554.75,133.39 L555.00,131.80 L555.24,131.66 L555.48,131.07 L555.71,130.94 L555.95,130.48 L556.19,130.21 L556.42,129.22 L556.66,129.42 L556.90,128.80 L557.26,128.72 L557.62,128.17 L557.99,128.17 L558.35,127.91 L558.71,128.42 L559.07,127.94 L559.44,127.29 L559.80,127.80 L560.05,128.35 L560.30,128.60 L560.55,128.60 L560.80,128.94 L561.05,129.37 L561.30,129.04 L561.55,130.16 L561.80,130.70 L562.05,132.60 L562.30,133.85 L562.55,136.01 L562.80,136.69 L563.05,137.93 L563.30,139.15 L563.55,140.21 L563.80,142.50 L564.17,139.67 L564.55,135.95 L564.92,133.22 L565.30,130.70 L565.65,127.20 L566.00,124.66 L566.35,123.33 L566.70,120.90" fill="none" stroke="#3a4b5d" stroke-width="1.3" stroke-linejoin="round"/>
</svg></body></html>
